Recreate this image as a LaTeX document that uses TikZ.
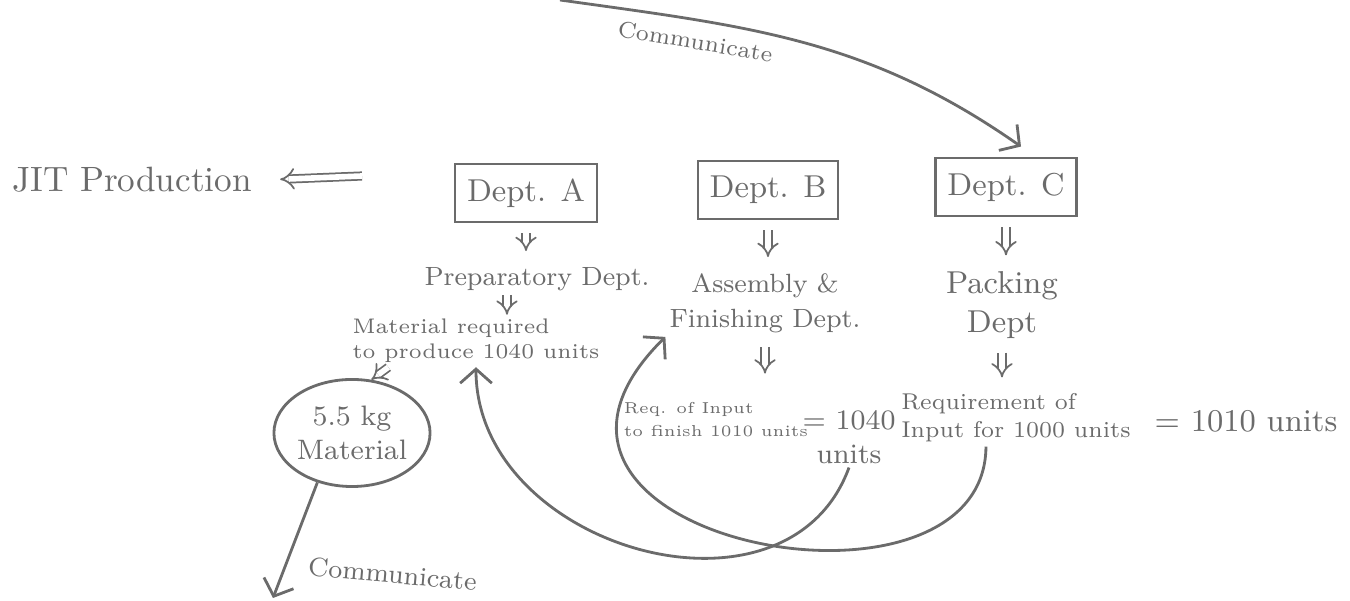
\documentclass[tikz,border=0pt]{standalone}
\usepackage{tikz}
\usetikzlibrary{arrows.meta}
\usetikzlibrary{shapes.geometric}
\definecolor{pencil}{HTML}{6B6B6B}

\begin{document}
\begin{tikzpicture}[x=0.01cm, y=0.01cm, color=pencil,
dept/.style={draw, line width=0.8pt, minimum width=1.25cm, minimum height=0.58cm, font=\small},
note/.style={align=left, font=\fontsize{6}{7.2}\selectfont, inner sep=1pt},
arr/.style={line width=0.8pt, -{Straight Barb[length=4pt,width=9pt]}},
dbl/.style={line width=0.5pt, double, double distance=1.6pt, -{Implies}, shorten <=0.1cm, shorten >=0.12cm}]
\useasboundingbox (0,0) rectangle (1350,-601);

\node (jit) at (132,-180) {JIT Production};
\node[dept, minimum width=1.42cm] (deptA) at (526,-193) {Dept. A};
\node[dept] (deptB) at (768,-190) {Dept. B};
\node[dept] (deptC) at (1006,-187) {Dept. C};

\node[font=\fontsize{7.5}{9}\selectfont, inner sep=1pt] (prepA) at (537,-279) {Preparatory Dept.};
\node[note] (matA) at (476,-341) {Material required\\to produce 1040 units};
\node[align=center, font=\fontsize{7.5}{10}\selectfont, inner sep=1pt] (asmB) at (765,-303) {Assembly \&\\Finishing Dept.};
\node[align=center, font=\small, inner sep=1pt] (packC) at (1002,-305) {Packing\\Dept};

\node[note, font=\fontsize{4.5}{6.5}\selectfont] (reqB) at (716,-420) {Req. of Input\\to finish 1010 units};
\node[align=center, font=\footnotesize, inner sep=1pt] (eqB) at (849,-437) {= 1040\\units};
\node[note, font=\fontsize{6.5}{8}\selectfont] (reqC) at (1016,-418) {Requirement of\\Input for 1000 units};
\node[font=\small] (eqC) at (1246,-421) {= 1010 units};

\node[draw, line width=0.8pt, ellipse, minimum width=1.55cm, minimum height=1.07cm, inner sep=0pt, align=center, font=\footnotesize] (kg) at (352,-433) {5.5 kg\\Material};

\coordinate (jitarrow) at (362,-176);
\coordinate (topstart) at (560,0);
\coordinate (commlow) at (273,-598);

\draw[dbl, shorten <=0pt, shorten >=0.16cm] (jitarrow) -- (jit.east);
\draw[dbl] (deptA) -- (deptA |- prepA.north);
\draw[dbl] (deptB) -- (deptB |- asmB.north);
\draw[dbl] (deptC) -- (deptC |- packC.north);
\draw[dbl, shorten <=0pt, shorten >=0pt] ([xshift=-0.3cm]prepA.south) -- ([xshift=-0.3cm]prepA.south |- matA.north);
\draw[dbl, shorten >=0.25cm] (asmB.south) -- (asmB.south |- reqB.north);
\draw[dbl] (packC.south) -- (packC.south |- reqC.north);
\draw[dbl, shorten <=0pt, shorten >=0pt] ([xshift=0.4cm]matA.south west) -- (kg.70);

\draw[arr] (topstart) to[out=-8, in=145] node[pos=0.27, below, sloped, font=\fontsize{6.5}{8}\selectfont] {Communicate} ([xshift=0.15cm, yshift=0.1cm]deptC.north);
\draw[arr] (kg.235) -- node[pos=0.72, right, xshift=0.1cm, rotate=-5, font=\fontsize{7.5}{9}\selectfont] {Communicate} (commlow);
\draw[arr] (eqB.south) to[out=-110, in=-90, looseness=1.2] (matA.south);
\draw[arr] ([xshift=-0.3cm]reqC.south) .. controls (985,-640) and (460,-540) .. (asmB.south west);
\end{tikzpicture}
\end{document}
